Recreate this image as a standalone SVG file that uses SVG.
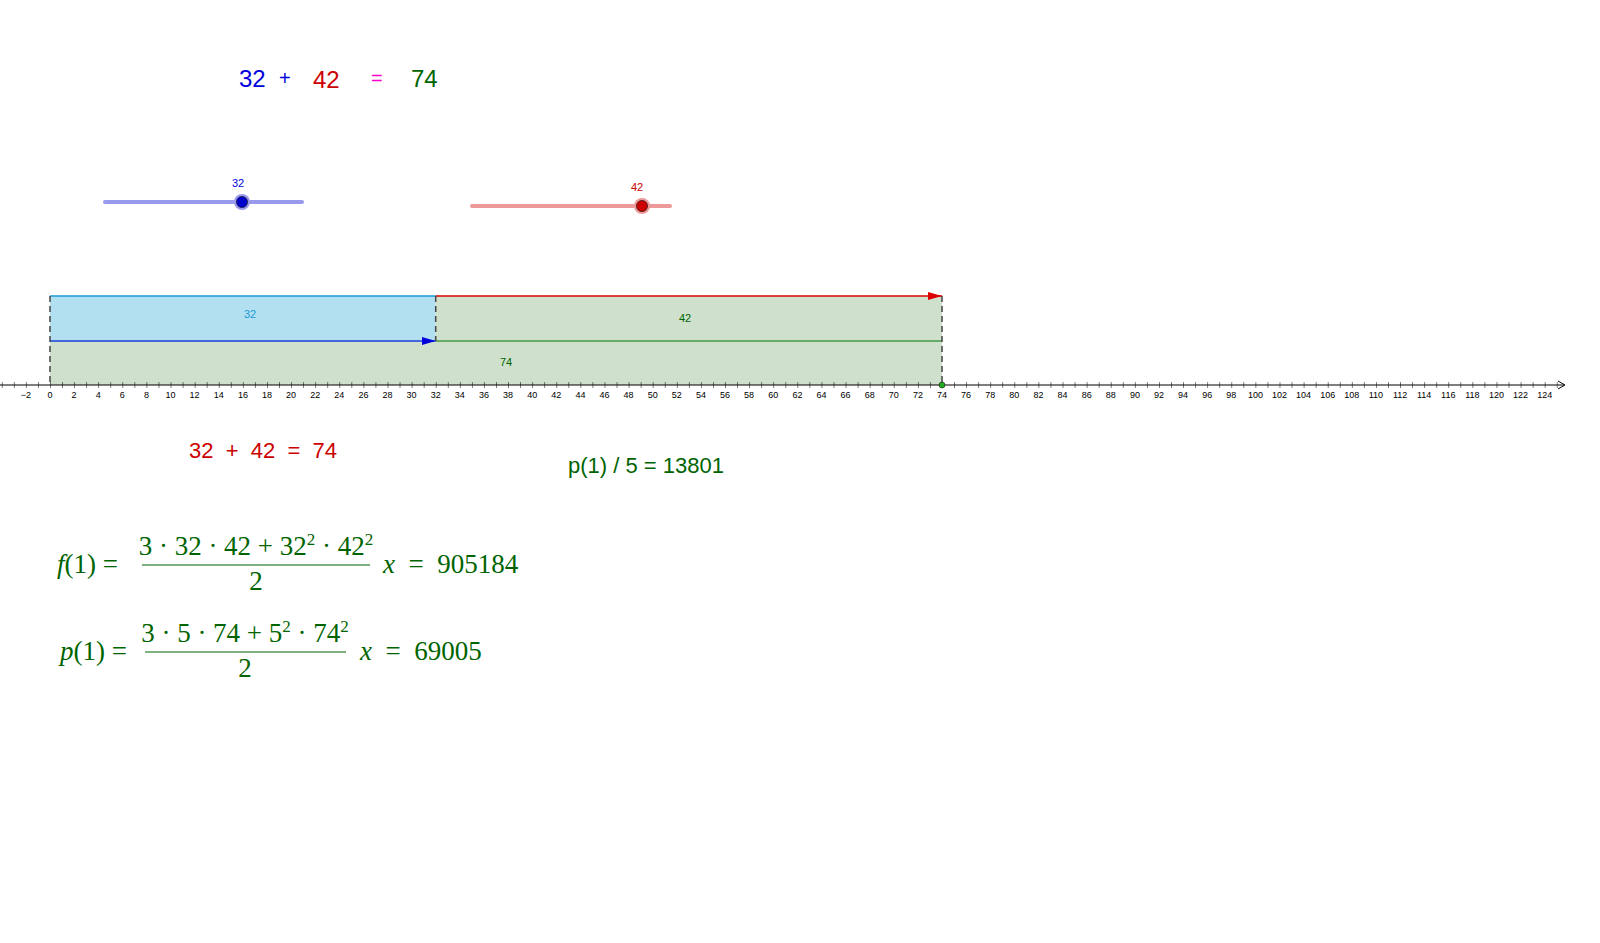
<svg xmlns="http://www.w3.org/2000/svg" width="1600" height="943" viewBox="0 0 1600 943">
<style>
.s{font-family:"Liberation Sans",Arial,sans-serif}
.ax{font-family:"Liberation Sans",Arial,sans-serif;font-size:9px;text-anchor:middle;fill:#000}
.m{font-family:"Liberation Serif","DejaVu Serif",serif;font-size:27px;fill:#006400}
.dash{stroke:#444;stroke-width:1.5;stroke-dasharray:6,4;fill:none}
</style>
<defs>
<pattern id="tk" x="50" y="0" width="12.0541" height="943" patternUnits="userSpaceOnUse"><rect x="-0.5" y="0" width="1" height="943" fill="#000"/></pattern>
<marker id="ab" viewBox="0 0 10 10" refX="10" refY="5" markerWidth="14" markerHeight="8" markerUnits="userSpaceOnUse" orient="auto" preserveAspectRatio="none"><path d="M0,0 L10,5 L0,10 z" fill="#0000dd"/></marker>
<marker id="ar" viewBox="0 0 10 10" refX="10" refY="5" markerWidth="14" markerHeight="8" markerUnits="userSpaceOnUse" orient="auto" preserveAspectRatio="none"><path d="M0,0 L10,5 L0,10 z" fill="#dd0000"/></marker>
</defs>
<rect width="1600" height="943" fill="#fff"/>
<g id="top-eq" class="s" font-size="24">
<text x="239" y="87" fill="#0000dd">32</text>
<text x="279" y="85" fill="#0000dd" font-size="20">+</text>
<text x="313" y="88" fill="#cc0000">42</text>
<text x="371" y="85" fill="#ff00cc" font-size="20">=</text>
<text x="411" y="87" fill="#006400">74</text>
</g>
<g id="slider-a">
<line x1="105" y1="202" x2="302" y2="202" stroke="#9999ee" stroke-width="4" stroke-linecap="round"/>
<circle cx="242" cy="202" r="8" fill="#9999ee"/>
<circle cx="242" cy="202" r="5.5" fill="#0000cc" stroke="#000" stroke-width="0.6"/>
<text x="238" y="187" class="s" font-size="11" fill="#0000dd" text-anchor="middle">32</text>
</g>
<g id="slider-b">
<line x1="472" y1="206" x2="670" y2="206" stroke="#ee9999" stroke-width="4" stroke-linecap="round"/>
<circle cx="642" cy="206" r="8" fill="#ee9999"/>
<circle cx="642" cy="206" r="5.5" fill="#cc0000" stroke="#000" stroke-width="0.6"/>
<text x="637" y="191" class="s" font-size="11" fill="#cc0000" text-anchor="middle">42</text>
</g>
<g id="bars">
<rect x="50" y="296" width="385.7" height="45" fill="#b3e0f0"/>
<rect x="435.7" y="296" width="506.3" height="45" fill="#cfe0cc"/>
<rect x="50" y="341" width="892" height="44" fill="#cfe0cc"/>
<line x1="50" y1="296" x2="435.7" y2="296" stroke="#1a9ad6" stroke-width="1.5"/>
<text x="250" y="318" class="s" font-size="11" fill="#1a9ad6" text-anchor="middle">32</text>
<text x="685" y="322" class="s" font-size="11" fill="#006400" text-anchor="middle">42</text>
<text x="506" y="366" class="s" font-size="11" fill="#006400" text-anchor="middle">74</text>
</g>
<g id="connectors">
<line x1="435.7" y1="341" x2="942" y2="341" stroke="#449944" stroke-width="1.5"/>
<line x1="50" y1="341" x2="435.7" y2="341" stroke="#4466dd" stroke-width="2" marker-end="url(#ab)"/>
<line x1="435.7" y1="296" x2="942" y2="296" stroke="#dd0000" stroke-width="1.5" marker-end="url(#ar)"/>
<line x1="50" y1="296" x2="50" y2="385" class="dash"/>
<line x1="435.7" y1="296" x2="435.7" y2="341" class="dash"/>
<line x1="942" y1="296" x2="942" y2="385" class="dash"/>
</g>
<g id="axis">
<rect x="0" y="382" width="1560" height="6" fill="url(#tk)"/>
<line x1="0" y1="385" x2="1564" y2="385" stroke="#000" stroke-width="1"/>
<path d="M1558,381 L1565,385 L1558,389" fill="none" stroke="#000" stroke-width="1"/>
<circle cx="942" cy="385" r="3" fill="#22aa22" stroke="#000" stroke-width="0.5"/>
<text class="ax" x="25.9" y="398">−2</text><text class="ax" x="50" y="398">0</text><text class="ax" x="74.1" y="398">2</text><text class="ax" x="98.2" y="398">4</text><text class="ax" x="122.3" y="398">6</text><text class="ax" x="146.4" y="398">8</text><text class="ax" x="170.5" y="398">10</text><text class="ax" x="194.6" y="398">12</text><text class="ax" x="218.8" y="398">14</text><text class="ax" x="242.9" y="398">16</text><text class="ax" x="267" y="398">18</text><text class="ax" x="291.1" y="398">20</text><text class="ax" x="315.2" y="398">22</text><text class="ax" x="339.3" y="398">24</text><text class="ax" x="363.4" y="398">26</text><text class="ax" x="387.5" y="398">28</text><text class="ax" x="411.6" y="398">30</text><text class="ax" x="435.7" y="398">32</text><text class="ax" x="459.8" y="398">34</text><text class="ax" x="483.9" y="398">36</text><text class="ax" x="508.1" y="398">38</text><text class="ax" x="532.2" y="398">40</text><text class="ax" x="556.3" y="398">42</text><text class="ax" x="580.4" y="398">44</text><text class="ax" x="604.5" y="398">46</text><text class="ax" x="628.6" y="398">48</text><text class="ax" x="652.7" y="398">50</text><text class="ax" x="676.8" y="398">52</text><text class="ax" x="700.9" y="398">54</text><text class="ax" x="725" y="398">56</text><text class="ax" x="749.1" y="398">58</text><text class="ax" x="773.2" y="398">60</text><text class="ax" x="797.4" y="398">62</text><text class="ax" x="821.5" y="398">64</text><text class="ax" x="845.6" y="398">66</text><text class="ax" x="869.7" y="398">68</text><text class="ax" x="893.8" y="398">70</text><text class="ax" x="917.9" y="398">72</text><text class="ax" x="942" y="398">74</text><text class="ax" x="966.1" y="398">76</text><text class="ax" x="990.2" y="398">78</text><text class="ax" x="1014.3" y="398">80</text><text class="ax" x="1038.4" y="398">82</text><text class="ax" x="1062.5" y="398">84</text><text class="ax" x="1086.7" y="398">86</text><text class="ax" x="1110.8" y="398">88</text><text class="ax" x="1134.9" y="398">90</text><text class="ax" x="1159" y="398">92</text><text class="ax" x="1183.1" y="398">94</text><text class="ax" x="1207.2" y="398">96</text><text class="ax" x="1231.3" y="398">98</text><text class="ax" x="1255.4" y="398">100</text><text class="ax" x="1279.5" y="398">102</text><text class="ax" x="1303.6" y="398">104</text><text class="ax" x="1327.7" y="398">106</text><text class="ax" x="1351.8" y="398">108</text><text class="ax" x="1375.9" y="398">110</text><text class="ax" x="1400.1" y="398">112</text><text class="ax" x="1424.2" y="398">114</text><text class="ax" x="1448.3" y="398">116</text><text class="ax" x="1472.4" y="398">118</text><text class="ax" x="1496.5" y="398">120</text><text class="ax" x="1520.6" y="398">122</text><text class="ax" x="1544.7" y="398">124</text>
</g>
<g id="sum-text" class="s" font-size="22">
<text x="189" y="458" fill="#cc0000" xml:space="preserve">32  +  42  =  74</text>
<text x="568" y="473" fill="#006400">p(1) / 5 = 13801</text>
</g>
<g id="formula-f" class="m">
<text x="57" y="573"><tspan font-style="italic">f</tspan>(1) =</text>
<text x="256" y="555" text-anchor="middle" xml:space="preserve">3 · 32 · 42 + 32<tspan font-size="17" dy="-10">2</tspan><tspan dy="10"> · 42</tspan><tspan font-size="17" dy="-10">2</tspan></text>
<line x1="142" y1="565" x2="370" y2="565" stroke="#006400" stroke-width="1.2"/>
<text x="256" y="590" text-anchor="middle">2</text>
<text x="383" y="573" xml:space="preserve"><tspan font-style="italic">x</tspan>  =  905184</text>
</g>
<g id="formula-p" class="m">
<text x="60" y="660"><tspan font-style="italic">p</tspan>(1) =</text>
<text x="245" y="642" text-anchor="middle" xml:space="preserve">3 · 5 · 74 + 5<tspan font-size="17" dy="-10">2</tspan><tspan dy="10"> · 74</tspan><tspan font-size="17" dy="-10">2</tspan></text>
<line x1="145" y1="652" x2="346" y2="652" stroke="#006400" stroke-width="1.2"/>
<text x="245" y="677" text-anchor="middle">2</text>
<text x="360" y="660" xml:space="preserve"><tspan font-style="italic">x</tspan>  =  69005</text>
</g>
</svg>
